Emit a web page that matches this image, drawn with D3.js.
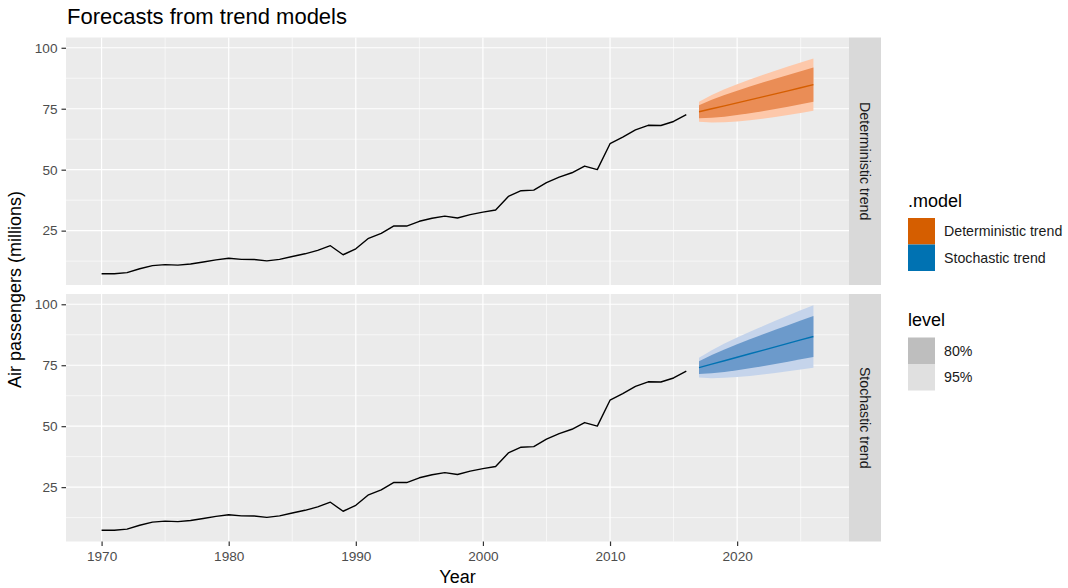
<!DOCTYPE html>
<html>
<head>
<meta charset="utf-8">
<script src="https://cdn.jsdelivr.net/npm/d3@7"></script>
<style>
  html, body { margin: 0; padding: 0; background: #ffffff; }
  svg { display: block; font-family: "Liberation Sans", Arial, sans-serif; }
</style>
</head>
<body>
<svg id="chart" width="1068" height="588"></svg>
<script>
// Australian air passengers (millions), annual
const years = d3.range(1970, 2017);
const passengers = [
  7.3187, 7.3266, 7.7956, 9.3846, 10.6647, 11.0551, 10.8643, 11.3065, 12.1223, 13.0225,
  13.6488, 13.2195, 13.1879, 12.6015, 13.2368, 14.4121, 15.4973, 16.8802, 18.8163, 15.1143,
  17.5534, 21.8601, 23.8866, 26.9293, 26.8885, 28.8314, 30.0751, 30.9535, 30.1857, 31.5797,
  32.5776, 33.4774, 39.0216, 41.3864, 41.5966, 44.6577, 46.9516, 48.7289, 51.4885, 50.0270,
  60.6411, 63.3603, 66.3552, 68.1980, 68.1233, 69.7792, 72.5970
];

// Forecast horizon
const fcYears = [2017, 2018, 2019, 2020, 2021, 2022, 2023, 2024, 2025, 2026];

// Deterministic trend forecasts
const detMean = [73.78, 74.98, 76.19, 77.40, 78.63, 79.86, 81.10, 82.35, 83.60, 84.87];
const detLo80 = [71.11, 71.29, 71.76, 72.39, 73.15, 73.98, 74.88, 75.83, 76.82, 77.86];
const detHi80 = [76.45, 78.68, 80.62, 82.41, 84.11, 85.74, 87.32, 88.87, 90.38, 91.88];
const detLo95 = [69.70, 69.33, 69.42, 69.74, 70.25, 70.87, 71.58, 72.38, 73.23, 74.15];
const detHi95 = [77.87, 80.63, 82.96, 85.06, 87.01, 88.85, 90.62, 92.32, 93.97, 95.60];

// Stochastic trend forecasts
const stoMean = [74.02, 75.44, 76.85, 78.27, 79.69, 81.11, 82.53, 83.95, 85.37, 86.79];
const stoLo80 = [71.37, 71.69, 72.26, 72.97, 73.77, 74.62, 75.52, 76.46, 77.42, 78.41];
const stoHi80 = [76.67, 79.19, 81.44, 83.57, 85.61, 87.60, 89.54, 91.44, 93.32, 95.17];
const stoLo95 = [69.97, 69.71, 69.83, 70.17, 70.63, 71.19, 71.81, 72.49, 73.22, 73.98];
const stoHi95 = [78.07, 81.17, 83.87, 86.37, 88.75, 91.03, 93.25, 95.41, 97.52, 99.60];

const models = ["Deterministic trend", "Stochastic trend"];
const levels = ["80%", "95%"];
const xTicks = [1970, 1980, 1990, 2000, 2010, 2020];
const xMinor = [1975, 1985, 1995, 2005, 2015, 2025];
const yTicks = [25, 50, 75, 100];
const yMinor = [12.5, 37.5, 62.5, 87.5];

const modelColor = { "Deterministic trend": "#D55E00", "Stochastic trend": "#0072B2" };
const bandColor = {
  "Deterministic trend": { "80%": "#EA8D56", "95%": "#FDC8AA" },
  "Stochastic trend": { "80%": "#6C9ACB", "95%": "#C5D4EB" }
};
const levelKey = { "80%": "#BEBEBE", "95%": "#E0E0E0" };

const panels = [
  { model: models[0], mean: detMean, lo80: detLo80, hi80: detHi80, lo95: detLo95, hi95: detHi95, top: 37.5 },
  { model: models[1], mean: stoMean, lo80: stoLo80, hi80: stoHi80, lo95: stoLo95, hi95: stoHi95, top: 294 }
];

const svg = d3.select("#chart");
const panelLeft = 66, panelRight = 849, panelH = 247.5;
const stripW = 32;
const tickFont = 13.6, titleFont = 18, stripFont = 14.2;

// shared scales (ggplot-style 5% expansion)
const xMin = 1970, xMax = 2026;
const xPad = (xMax - xMin) * 0.05;
const x = d3.scaleLinear().domain([xMin - xPad, xMax + xPad]).range([panelLeft, panelRight]);
const yLo = d3.min(passengers), yHi = d3.max(stoHi95.concat(detHi95));
const yPad = (yHi - yLo) * 0.05;

// title
svg.append("text").attr("x", 67).attr("y", 23.5)
  .attr("font-size", 22).attr("fill", "#000").text("Forecasts from trend models");

panels.forEach(p => {
  const y = d3.scaleLinear().domain([yLo - yPad, yHi + yPad]).range([p.top + panelH, p.top]);
  const g = svg.append("g");

  g.append("rect").attr("x", panelLeft).attr("y", p.top)
    .attr("width", panelRight - panelLeft).attr("height", panelH).attr("fill", "#EBEBEB");

  // minor grid
  g.selectAll(".vmin").data(xMinor).enter().append("line")
    .attr("x1", d => x(d)).attr("x2", d => x(d)).attr("y1", p.top).attr("y2", p.top + panelH)
    .attr("stroke", "#fff").attr("stroke-width", 0.6);
  g.selectAll(".hmin").data(yMinor).enter().append("line")
    .attr("x1", panelLeft).attr("x2", panelRight).attr("y1", d => y(d)).attr("y2", d => y(d))
    .attr("stroke", "#fff").attr("stroke-width", 0.6);
  // major grid
  g.selectAll(".vmaj").data(xTicks).enter().append("line")
    .attr("x1", d => x(d)).attr("x2", d => x(d)).attr("y1", p.top).attr("y2", p.top + panelH)
    .attr("stroke", "#fff").attr("stroke-width", 1.2);
  g.selectAll(".hmaj").data(yTicks).enter().append("line")
    .attr("x1", panelLeft).attr("x2", panelRight).attr("y1", d => y(d)).attr("y2", d => y(d))
    .attr("stroke", "#fff").attr("stroke-width", 1.2);

  // forecast bands
  const fc = fcYears.map((yr, i) => ({ yr, m: p.mean[i], l80: p.lo80[i], h80: p.hi80[i], l95: p.lo95[i], h95: p.hi95[i] }));
  g.append("path").datum(fc)
    .attr("d", d3.area().x(d => x(d.yr)).y0(d => y(d.l95)).y1(d => y(d.h95)))
    .attr("fill", bandColor[p.model]["95%"]);
  g.append("path").datum(fc)
    .attr("d", d3.area().x(d => x(d.yr)).y0(d => y(d.l80)).y1(d => y(d.h80)))
    .attr("fill", bandColor[p.model]["80%"]);
  g.append("path").datum(fc)
    .attr("d", d3.line().x(d => x(d.yr)).y(d => y(d.m)))
    .attr("fill", "none").attr("stroke", modelColor[p.model]).attr("stroke-width", 1.4);

  // history
  g.append("path").datum(years.map((yr, i) => [yr, passengers[i]]))
    .attr("d", d3.line().x(d => x(d[0])).y(d => y(d[1])))
    .attr("fill", "none").attr("stroke", "#000").attr("stroke-width", 1.4)
    .attr("stroke-linejoin", "round");

  // y axis
  const ya = svg.append("g").attr("transform", `translate(${panelLeft},0)`)
    .call(d3.axisLeft(y).tickValues(yTicks).tickSize(4.5).tickPadding(4));
  ya.select(".domain").remove();
  ya.selectAll(".tick line").attr("stroke", "#333").attr("stroke-width", 1.2);
  ya.selectAll(".tick text").attr("fill", "#4D4D4D").attr("font-size", tickFont)
    .attr("font-family", "Liberation Sans, Arial, sans-serif");

  // strip
  svg.append("rect").attr("x", panelRight).attr("y", p.top)
    .attr("width", stripW).attr("height", panelH).attr("fill", "#D9D9D9");
  svg.append("text")
    .attr("transform", `translate(${panelRight + stripW / 2},${p.top + panelH / 2}) rotate(90)`)
    .attr("text-anchor", "middle").attr("dy", "0.35em")
    .attr("font-size", stripFont).attr("fill", "#1A1A1A").text(p.model);

  if (p === panels[1]) {
    const xa = svg.append("g").attr("transform", `translate(0,${p.top + panelH})`)
      .call(d3.axisBottom(x).tickValues(xTicks).tickFormat(d3.format("d")).tickSize(4.5).tickPadding(5.5));
    xa.select(".domain").remove();
    xa.selectAll(".tick line").attr("stroke", "#333").attr("stroke-width", 1.2);
    xa.selectAll(".tick text").attr("fill", "#4D4D4D").attr("font-size", tickFont)
      .attr("font-family", "Liberation Sans, Arial, sans-serif");
  }
});

// axis titles
svg.append("text").attr("x", (panelLeft + panelRight) / 2).attr("y", 583)
  .attr("text-anchor", "middle").attr("font-size", titleFont).attr("fill", "#000").text("Year");
svg.append("text")
  .attr("transform", `translate(21,${(37.5 + 541.5) / 2}) rotate(-90)`)
  .attr("text-anchor", "middle").attr("font-size", titleFont).attr("fill", "#000")
  .text("Air passengers (millions)");

// legends
const legX = 908, keyW = 27, keyH = 26.5, labX = 944;
svg.append("text").attr("x", legX).attr("y", 206.5).attr("font-size", titleFont).attr("fill", "#000").text(".model");
models.forEach((m, i) => {
  svg.append("rect").attr("x", legX).attr("y", 218 + i * keyH).attr("width", keyW).attr("height", keyH)
    .attr("fill", modelColor[m]);
  svg.append("text").attr("x", labX).attr("y", 218 + i * keyH + keyH / 2).attr("dy", "0.35em")
    .attr("font-size", stripFont).attr("fill", "#1A1A1A").text(m);
});
svg.append("text").attr("x", legX).attr("y", 325.5).attr("font-size", titleFont).attr("fill", "#000").text("level");
levels.forEach((l, i) => {
  svg.append("rect").attr("x", legX).attr("y", 337.5 + i * keyH).attr("width", keyW).attr("height", keyH)
    .attr("fill", levelKey[l]);
  svg.append("text").attr("x", labX).attr("y", 337.5 + i * keyH + keyH / 2).attr("dy", "0.35em")
    .attr("font-size", stripFont).attr("fill", "#1A1A1A").text(l);
});
</script>
</body>
</html>
